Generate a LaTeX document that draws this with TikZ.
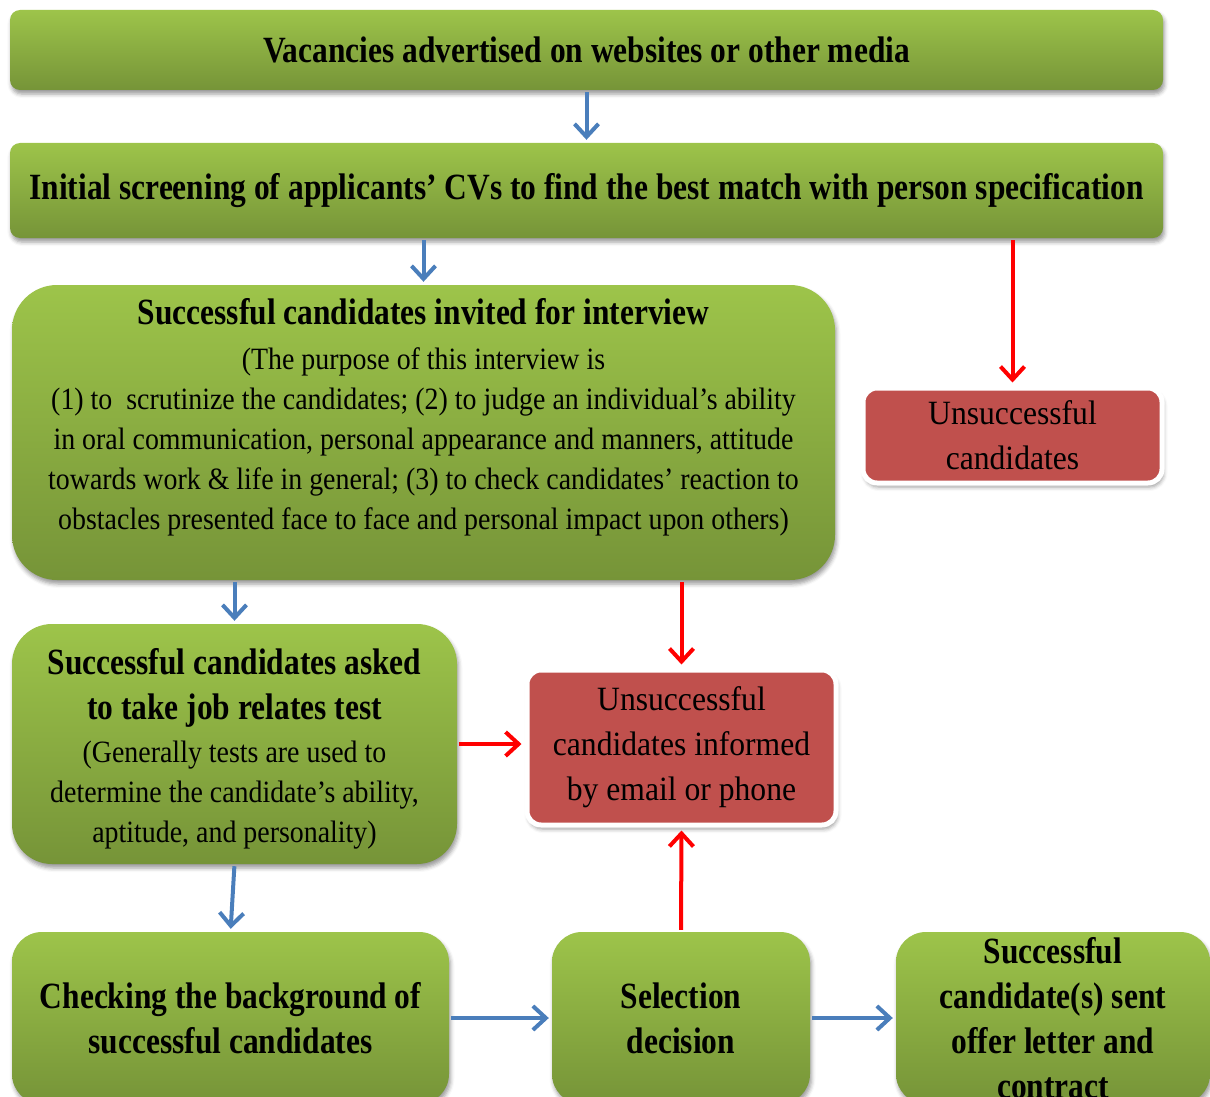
\documentclass[tikz,border=0pt]{standalone}
\usepackage{fontspec}
\setmainfont{Liberation Serif}
\newfontfamily\hdfont[FakeStretch=0.85]{Liberation Serif}
\newfontfamily\txfont[FakeStretch=0.9]{Liberation Serif}
\newfontfamily\bigfont[FakeStretch=0.93]{Liberation Serif}
\newcommand\hdb{\hdfont\bfseries\fontsize{37}{45}\selectfont}
\usetikzlibrary{arrows.meta,shadows.blur}
\definecolor{gtop}{RGB}{157,196,74}
\definecolor{gbot}{RGB}{118,148,56}
\definecolor{rfill}{RGB}{192,80,77}
\definecolor{barrow}{RGB}{74,126,187}
\definecolor{rarrow}{RGB}{255,0,0}
\tikzset{
  softshadow/.style={blur shadow={shadow xshift=1.5pt, shadow yshift=-4pt, shadow opacity=40, shadow blur radius=4pt}},
  gbox/.style={rectangle, top color=gtop, bottom color=gbot, draw=none, inner sep=0pt, align=center, softshadow},
  rbox/.style={rectangle, rounded corners=14pt, fill=rfill, draw=white, line width=5pt, inner sep=0pt, align=center, softshadow},
  hdtext/.style={font=\hdb},
  bigtext/.style={font=\bigfont\fontsize{34}{45}\selectfont},
  smalltext/.style={font=\txfont\fontsize{31}{40}\selectfont},
  flow/.style={line width=4pt, -{Straight Barb[length=13pt, width=24pt]}, shorten >=3pt, shorten <=2pt},
  goes/.style={flow, barrow},
  fails/.style={flow, rarrow},
}
\begin{document}
\begin{tikzpicture}[x=1pt, y=-1pt]
  \useasboundingbox (0,0) rectangle (1210,1097);
  \clip (0,0) rectangle (1210,1097);

  % main green stages
  \node[gbox, hdtext, rounded corners=10pt, minimum width=1153pt, minimum height=80pt]
    (adv) at (586.5,50) {Vacancies advertised on websites or other media};
  \node[gbox, hdtext, rounded corners=10pt, minimum width=1153pt, minimum height=95pt]
    (scr) at (586.5,190.5) {Initial screening of applicants’ CVs to find the best match with person specification};
  \node[gbox, rounded corners=45pt, minimum width=823pt, minimum height=295pt]
    (intv) at (423.5,432.5) {};
  \node[smalltext, align=center] (intvtext) at (423.5,417) {%
    {\hdb Successful candidates invited for interview}\\[5pt]
    (The purpose of this interview is\\
    (1) to\ \ scrutinize the candidates;\ (2) to judge an individual’s ability\\
    in oral communication, personal appearance and manners, attitude\\
    towards work \& life in general;\ (3) to check candidates’ reaction to\\
    obstacles presented face to face and personal impact upon others)};
  \node[gbox, rounded corners=40pt, minimum width=445pt, minimum height=240pt]
    (test) at (234.5,744) {};
  \node[smalltext, align=center] (testtext) at (234.5,749) {%
    {\hdb Successful candidates asked}\\[5pt]
    {\hdb to take job relates test}\\[3pt]
    (Generally tests are used to\\
    determine the candidate’s ability,\\
    aptitude, and personality)};
  \node[gbox, hdtext, rounded corners=30pt, minimum width=437pt, minimum height=172pt]
    (chk) at (230.5,1018) {Checking the background of\\successful candidates};
  \node[gbox, hdtext, rounded corners=30pt, minimum width=258pt, minimum height=172pt]
    (sel) at (681,1018) {Selection\\decision};
  \node[gbox, hdtext, rounded corners=30pt, minimum width=314pt, minimum height=172pt]
    (off) at (1053,1018) {Successful\\candidate(s) sent\\offer letter and\\contract};

  % rejection outcomes
  \node[rbox, bigtext, minimum width=299pt, minimum height=95pt]
    (rej1) at (1012.5,435.5) {Unsuccessful\\candidates};
  \node[rbox, bigtext, minimum width=309pt, minimum height=155pt]
    (rej2) at (681.5,747.5) {Unsuccessful\\candidates informed\\by email or phone};

  % progression
  \draw[goes] (adv) -- (scr);
  \draw[goes] (scr.south -| intv.north) -- (intv.north);
  \draw[goes] (intv.south -| test.north) -- (test.north);
  \draw[goes] (test.south) -- (chk.north);
  \draw[goes] (chk.east) -- (sel.west);
  \draw[goes] (sel.east) -- (off.west);

  % rejections
  \draw[fails] (scr.south -| rej1.north) -- (rej1.north);
  \draw[fails] (intv.south -| rej2.north) -- (rej2.north);
  \draw[fails] (test.east) -- (test.east -| rej2.west);
  \draw[fails] (sel.north) -- (rej2.south);
\end{tikzpicture}
\end{document}
